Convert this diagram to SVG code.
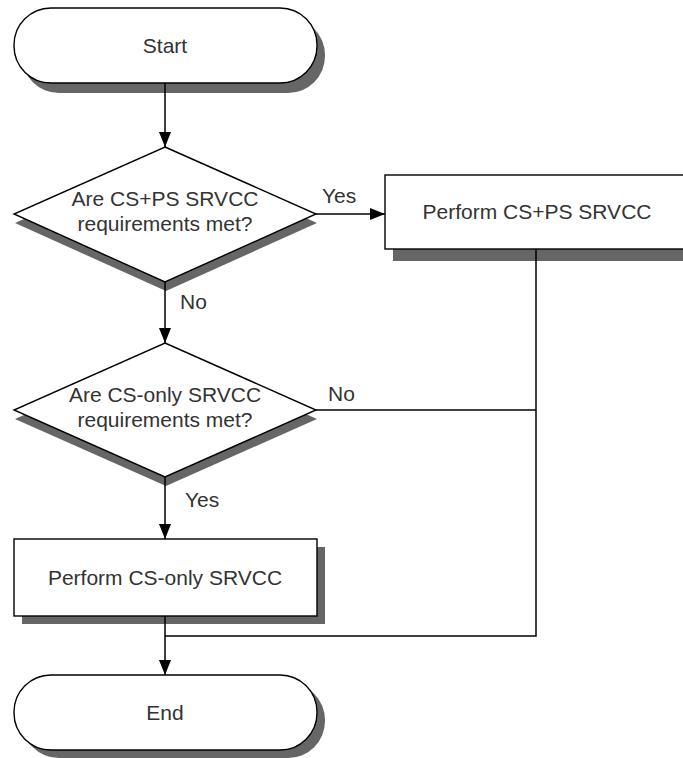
<svg xmlns="http://www.w3.org/2000/svg" width="683" height="758" viewBox="0 0 683 758">
  <defs>
    <marker id="arrow" markerWidth="16" markerHeight="12" refX="15" refY="6" orient="auto" markerUnits="userSpaceOnUse">
      <path d="M0,0 L15,6 L0,12 Z" fill="#000"/>
    </marker>
  </defs>
  <style>
    .shadow { fill: #666; }
    .shape { fill: #fff; stroke: #000; stroke-width: 1.4; }
    .label { font-family: "Liberation Sans", Arial, sans-serif; font-size: 21px; fill: #333; }
    .mid { text-anchor: middle; }
    .conn { fill: none; stroke: #000; stroke-width: 1.5; }
  </style>
  <rect width="683" height="758" fill="#fff"/>

  <g id="start">
    <rect class="shadow" x="22" y="18" width="303" height="75" rx="37" ry="37"/>
    <rect class="shape" x="14" y="8" width="303" height="75" rx="37" ry="37"/>
    <text class="label mid" x="165" y="53">Start</text>
  </g>

  <g id="decision-cs-ps">
    <polygon class="shadow" points="166,156 317,223 166,291 15,223"/>
    <polygon class="shape" points="165,147 316,214 165,282 14,214"/>
    <text class="label mid" x="165" y="206">Are CS+PS SRVCC</text>
    <text class="label mid" x="165" y="231">requirements met?</text>
  </g>

  <g id="perform-cs-ps">
    <rect class="shadow" x="393" y="186" width="304" height="75"/>
    <rect class="shape" x="385" y="175" width="304" height="74"/>
    <text class="label mid" x="537" y="219">Perform CS+PS SRVCC</text>
  </g>

  <g id="decision-cs-only">
    <polygon class="shadow" points="166,352 317,419 166,486 15,419"/>
    <polygon class="shape" points="165,343 316,410 165,477 14,410"/>
    <text class="label mid" x="165" y="402">Are CS-only SRVCC</text>
    <text class="label mid" x="165" y="427">requirements met?</text>
  </g>

  <g id="perform-cs-only">
    <rect class="shadow" x="22" y="547" width="303" height="77"/>
    <rect class="shape" x="14" y="539" width="303" height="77"/>
    <text class="label mid" x="165" y="585">Perform CS-only SRVCC</text>
  </g>

  <g id="end">
    <rect class="shadow" x="22" y="683" width="303" height="75" rx="37" ry="37"/>
    <rect class="shape" x="14" y="675" width="303" height="75" rx="37" ry="37"/>
    <text class="label mid" x="165" y="720">End</text>
  </g>

  <g id="connectors">
    <line class="conn" x1="165" y1="83" x2="165" y2="147" marker-end="url(#arrow)"/>
    <line class="conn" x1="316" y1="214" x2="385" y2="214" marker-end="url(#arrow)"/>
    <line class="conn" x1="165" y1="282" x2="165" y2="343" marker-end="url(#arrow)"/>
    <line class="conn" x1="165" y1="477" x2="165" y2="539" marker-end="url(#arrow)"/>
    <polyline class="conn" points="536,249 536,636 165,636"/>
    <line class="conn" x1="316" y1="410" x2="536" y2="410"/>
    <line class="conn" x1="165" y1="616" x2="165" y2="675" marker-end="url(#arrow)"/>
    <text class="label" x="322" y="203">Yes</text>
    <text class="label" x="180" y="309">No</text>
    <text class="label" x="328" y="401">No</text>
    <text class="label" x="185" y="507">Yes</text>
  </g>
</svg>
